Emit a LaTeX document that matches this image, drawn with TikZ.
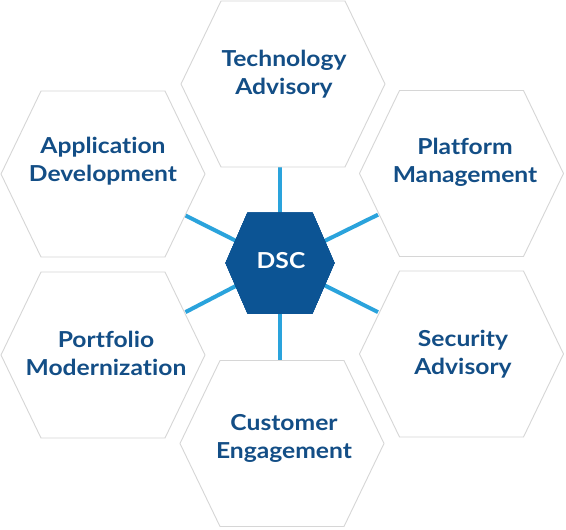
\documentclass[tikz,border=0pt]{standalone}
\usepackage{fontspec}
\setmainfont{Lato}
\newfontfamily\lblfont{Lato}[FakeStretch=1.12,Ligatures={NoCommon,NoDiscretionary}]
\usetikzlibrary{calc}
\definecolor{txtblue}{HTML}{134E86}
\definecolor{dscblue}{HTML}{0C5494}
\definecolor{spokeblue}{HTML}{2AA3DC}
\definecolor{hexgray}{HTML}{D6D6D6}
\newcommand\outerhex[1]{%
  \draw[hexline] ($(#1)+(-102,0)$) -- ($(#1)+(-62,-83)$) -- ($(#1)+(62,-83)$) --
    ($(#1)+(102,0)$) -- ($(#1)+(62,83)$) -- ($(#1)+(-62,83)$) -- cycle;}
\begin{document}
\begin{tikzpicture}[x=1pt,y=-1pt,
  hexline/.style={draw=hexgray,line width=0.9pt,line join=round},
  spoke/.style={draw=spokeblue,line width=4pt},
  label/.style={text=txtblue,align=center,inner sep=0pt,
    font=\lblfont\bfseries\fontsize{22}{28}\selectfont},
  dsclabel/.style={text=white,inner sep=0pt,font=\lblfont\bfseries\fontsize{22}{28}\selectfont}]
\useasboundingbox (0,0) rectangle (566,530);
\fill[white] (0,0) rectangle (566,530);
% hexagon centres
\coordinate (dsc) at (280,263);
\coordinate (hT)  at (283,84);
\coordinate (hUL) at (103,174);
\coordinate (hUR) at (461.5,173.5);
\coordinate (hLL) at (103,355);
\coordinate (hLR) at (461.5,354);
\coordinate (hB)  at (282,443.5);
% spoke ends on the outer hexagons
\coordinate (eT)  at (280,167);
\coordinate (eB)  at (280,360);
\coordinate (eUL) at ($(hUL)!0.466!(dsc)$);
\coordinate (eUR) at ($(hUR)!0.46!(dsc)$);
\coordinate (eLL) at ($(hLL)!0.466!(dsc)$);
\coordinate (eLR) at ($(hLR)!0.46!(dsc)$);
% spokes
\foreach \e in {eT,eB,eUL,eUR,eLL,eLR} \draw[spoke] (dsc) -- (\e);
% outer hexagons
\foreach \h in {hT,hUL,hUR,hLL,hLR,hB} \outerhex{\h}
% central hexagon
\fill[dscblue] ($(dsc)+(-54.5,0)$) -- ($(dsc)+(-32.5,-50.5)$) -- ($(dsc)+(32.5,-50.5)$) --
  ($(dsc)+(54.5,0)$) -- ($(dsc)+(32.5,50.5)$) -- ($(dsc)+(-32.5,50.5)$) -- cycle;
\node[dsclabel] (dsct) at (281,261) {DSC};
% labels
\node[label] (ta) at (284,74) {Technology\\Advisory};
\node[label] (ad) at (103,161) {Application\\Development};
\node[label] (pm) at (465,162.5) {Platform\\Management};
\node[label] (po) at (106,353) {Portfolio\\Modernization};
\node[label] (sa) at (463,354.5) {Security\\Advisory};
\node[label] (ce) at (284,438.5) {Customer\\Engagement};
\end{tikzpicture}
\end{document}
